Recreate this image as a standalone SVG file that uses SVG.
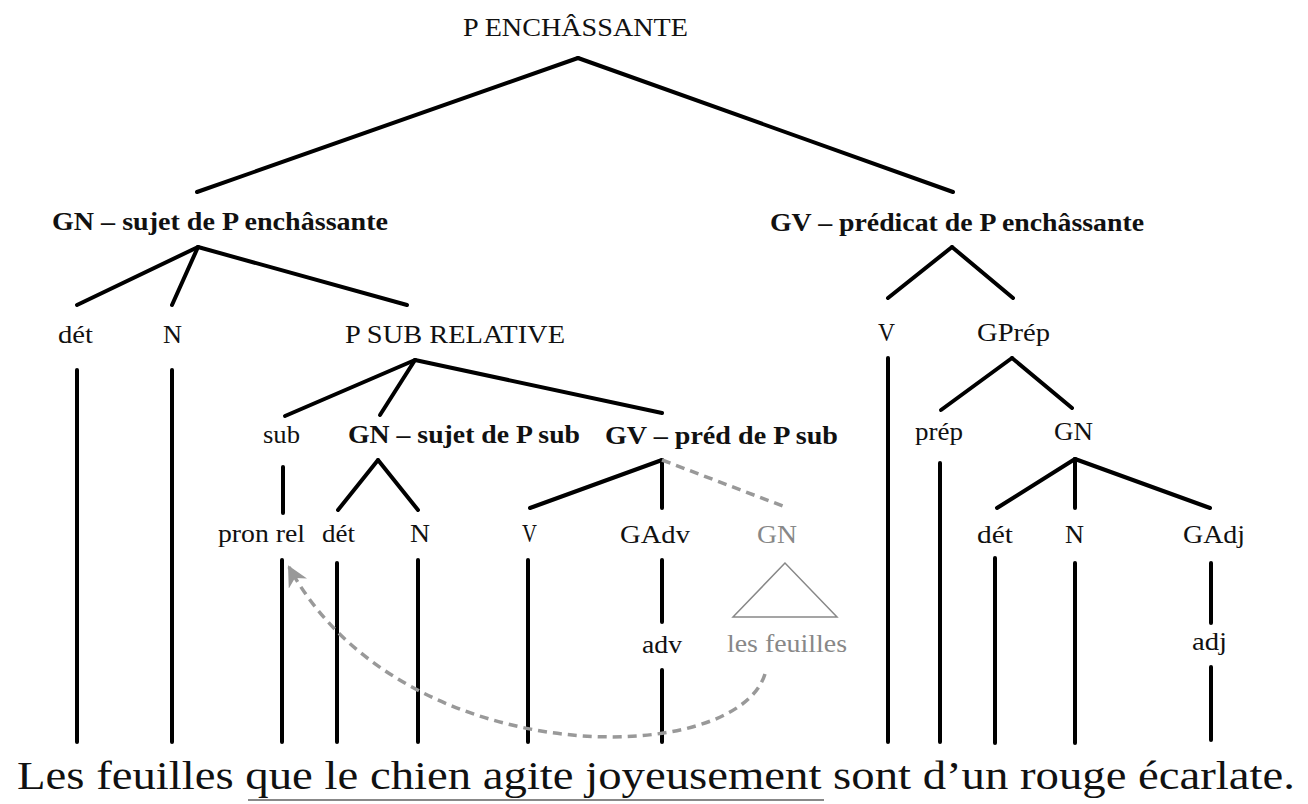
<svg xmlns="http://www.w3.org/2000/svg" width="1308" height="804" viewBox="0 0 1308 804">
<style>
text{font-family:"Liberation Serif","Times New Roman",serif;font-size:25px;fill:#111}
.b{font-weight:bold}
.g{fill:#888}
.e{stroke:#000;stroke-width:4;stroke-linecap:round;fill:none}
.d{stroke:#999;stroke-width:3.5;stroke-dasharray:9 6;fill:none}
</style>
<defs>
<marker id="ah" viewBox="0 0 10 10" refX="9" refY="5" markerWidth="6" markerHeight="6" orient="auto" markerUnits="strokeWidth">
<path d="M0,0 L10,5 L0,10 L3,5 Z" fill="#999"/>
</marker>
</defs>
<rect width="1308" height="804" fill="#fff"/>
<g id="connectors">
<line class="e" x1="578" y1="58" x2="197" y2="192"/>
<line class="e" x1="578" y1="58" x2="953" y2="192"/>
<line class="e" x1="198" y1="247" x2="77" y2="305"/>
<line class="e" x1="198" y1="247" x2="172" y2="305"/>
<line class="e" x1="198" y1="247" x2="407" y2="305"/>
<line class="e" x1="415" y1="360" x2="285" y2="416"/>
<line class="e" x1="415" y1="360" x2="380" y2="415"/>
<line class="e" x1="415" y1="360" x2="662" y2="413"/>
<line class="e" x1="952" y1="247" x2="888" y2="298"/>
<line class="e" x1="952" y1="247" x2="1013" y2="298"/>
<line class="e" x1="1012" y1="358" x2="941" y2="410"/>
<line class="e" x1="1012" y1="358" x2="1072" y2="408"/>
<line class="e" x1="1075" y1="459" x2="997" y2="508"/>
<line class="e" x1="1075" y1="459" x2="1075" y2="508"/>
<line class="e" x1="1075" y1="459" x2="1210" y2="508"/>
<line class="e" x1="378" y1="460" x2="338" y2="510"/>
<line class="e" x1="378" y1="460" x2="418" y2="510"/>
<line class="e" x1="662" y1="460" x2="530" y2="508"/>
<line class="e" x1="662" y1="460" x2="662" y2="508"/>
<line class="d" x1="662" y1="460" x2="788" y2="508"/>
<line class="e" x1="77" y1="370" x2="77" y2="742"/>
<line class="e" x1="172" y1="370" x2="172" y2="742"/>
<line class="e" x1="888" y1="358" x2="888" y2="742"/>
<line class="e" x1="940" y1="463" x2="940" y2="742"/>
<line class="e" x1="995" y1="558" x2="995" y2="743"/>
<line class="e" x1="1075" y1="563" x2="1075" y2="743"/>
<line class="e" x1="1211" y1="563" x2="1211" y2="623"/>
<line class="e" x1="1211" y1="667" x2="1211" y2="740"/>
<line class="e" x1="283" y1="467" x2="283" y2="513"/>
<line class="e" x1="282" y1="560" x2="282" y2="742"/>
<line class="e" x1="337" y1="563" x2="337" y2="742"/>
<line class="e" x1="418" y1="560" x2="418" y2="742"/>
<line class="e" x1="528" y1="560" x2="528" y2="742"/>
<line class="e" x1="662" y1="560" x2="662" y2="622"/>
<line class="e" x1="662" y1="670" x2="662" y2="742"/>
<path class="d" d="M765,674 C735,770 400,772 289,567" marker-end="url(#ah)"/>
<line x1="248" y1="800" x2="824" y2="800" stroke="#888" stroke-width="2"/>
</g>
<g id="n-root"><text x="463" y="36" textLength="225" lengthAdjust="spacingAndGlyphs">P ENCHÂSSANTE</text></g>
<g id="n-gn-sujet"><text class="b" x="52" y="230" textLength="336" lengthAdjust="spacingAndGlyphs">GN – sujet de P enchâssante</text></g>
<g id="n-gv-pred"><text class="b" x="770" y="231" textLength="374" lengthAdjust="spacingAndGlyphs">GV – prédicat de P enchâssante</text></g>
<g id="n-det1"><text x="58" y="343" textLength="35" lengthAdjust="spacingAndGlyphs">dét</text></g>
<g id="n-n1"><text x="163" y="343" textLength="19" lengthAdjust="spacingAndGlyphs">N</text></g>
<g id="n-psub"><text x="345" y="343" textLength="220" lengthAdjust="spacingAndGlyphs">P SUB RELATIVE</text></g>
<g id="n-v1"><text x="878" y="341" textLength="17" lengthAdjust="spacingAndGlyphs">V</text></g>
<g id="n-gprep"><text x="977" y="341" textLength="73" lengthAdjust="spacingAndGlyphs">GPrép</text></g>
<g id="n-sub"><text x="263" y="443" textLength="37" lengthAdjust="spacingAndGlyphs">sub</text></g>
<g id="n-gn-sub"><text class="b" x="348" y="443" textLength="232" lengthAdjust="spacingAndGlyphs">GN – sujet de P sub</text></g>
<g id="n-gv-sub"><text class="b" x="605" y="444" textLength="233" lengthAdjust="spacingAndGlyphs">GV – préd de P sub</text></g>
<g id="n-prep"><text x="915" y="440" textLength="48" lengthAdjust="spacingAndGlyphs">prép</text></g>
<g id="n-gn2"><text x="1054" y="440" textLength="39" lengthAdjust="spacingAndGlyphs">GN</text></g>
<g id="n-pronrel"><text x="218" y="542" textLength="87" lengthAdjust="spacingAndGlyphs">pron rel</text></g>
<g id="n-det2"><text x="322" y="542" textLength="33" lengthAdjust="spacingAndGlyphs">dét</text></g>
<g id="n-n2"><text x="410" y="542" textLength="20" lengthAdjust="spacingAndGlyphs">N</text></g>
<g id="n-v2"><text x="522" y="542" textLength="15" lengthAdjust="spacingAndGlyphs">V</text></g>
<g id="n-gadv"><text x="620" y="543" textLength="70" lengthAdjust="spacingAndGlyphs">GAdv</text></g>
<g id="n-gn-trace"><text class="g" x="757" y="543" textLength="40" lengthAdjust="spacingAndGlyphs">GN</text>
<polygon points="785,563 733,617 837,617" fill="none" stroke="#888" stroke-width="1.5"/></g>
<g id="n-det3"><text x="977" y="543" textLength="36" lengthAdjust="spacingAndGlyphs">dét</text></g>
<g id="n-n3"><text x="1065" y="543" textLength="19" lengthAdjust="spacingAndGlyphs">N</text></g>
<g id="n-gadj"><text x="1183" y="543" textLength="62" lengthAdjust="spacingAndGlyphs">GAdj</text></g>
<g id="n-adv"><text x="642" y="653" textLength="40" lengthAdjust="spacingAndGlyphs">adv</text></g>
<g id="n-lesfeuilles"><text class="g" x="727" y="652" textLength="120" lengthAdjust="spacingAndGlyphs">les feuilles</text></g>
<g id="n-adj"><text x="1192" y="650" textLength="35" lengthAdjust="spacingAndGlyphs">adj</text></g>
<g id="sentence"><text x="17" y="789" style="font-size:40px" textLength="1278" lengthAdjust="spacingAndGlyphs">Les feuilles que le chien agite joyeusement sont d’un rouge écarlate.</text></g>
</svg>
